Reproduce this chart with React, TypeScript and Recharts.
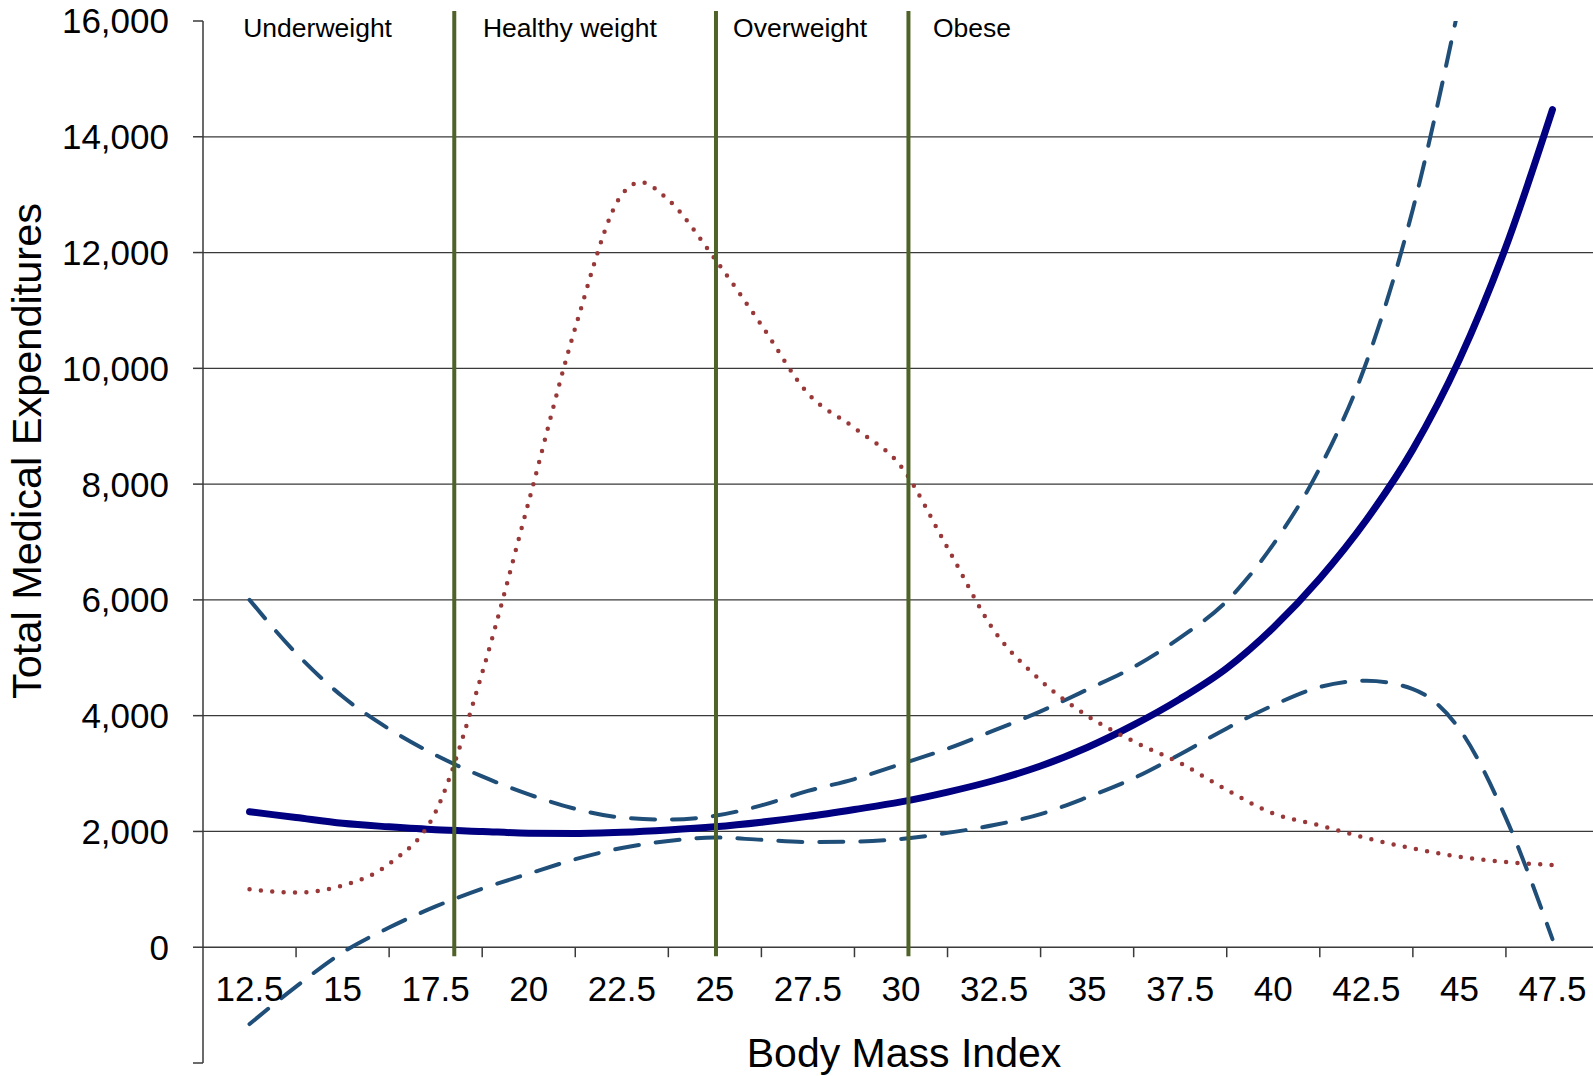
import { LineChart, Line, XAxis, YAxis, ReferenceLine } from 'recharts';

// BMI grid used for the fitted curve and its confidence band
const bmi = [12.5, 13.75, 15, 16.25, 17.5, 18.75, 20, 21.25, 22.5, 23.75, 25, 26.25, 27.5, 28.75, 30, 31.25, 32.5, 33.75, 35, 36.25, 37.5, 38.75, 40, 41.25, 42.5, 43.75, 45, 46.25, 47.5];
const expenditure = [2340, 2240, 2140, 2080, 2030, 2000, 1970, 1965, 1985, 2025, 2080, 2160, 2260, 2380, 2510, 2680, 2880, 3130, 3450, 3840, 4290, 4820, 5520, 6370, 7380, 8600, 10150, 12100, 14470];
const upperBound = [6000, 5080, 4330, 3770, 3320, 2950, 2640, 2390, 2240, 2205, 2270, 2450, 2700, 2905, 3165, 3430, 3745, 4075, 4450, 4840, 5350, 5980, 6960, 8280, 10100, 12750, 16300, null, null];
const lowerBound = [-1327, -680, -90, 340, 705, 1010, 1270, 1520, 1715, 1835, 1895, 1855, 1818, 1825, 1870, 1975, 2110, 2300, 2590, 2920, 3335, 3780, 4180, 4495, 4605, 4460, 3770, 2230, 140];

// population distribution (dotted), own x positions so the peak is kept
const densityBmi = [12.5, 13.75, 15, 16.25, 17.5, 18.75, 20, 21.25, 22.5, 23, 23.75, 25, 26.25, 27.5, 28.75, 30, 31.25, 32.5, 33.75, 35, 36.25, 37.5, 38.75, 40, 41.25, 42.5, 43.75, 45, 46.25, 47.5];
const density = [1000, 945, 1065, 1440, 2340, 4740, 7700, 10700, 13000, 13215, 12910, 11890, 10750, 9565, 8970, 8305, 6900, 5470, 4610, 4000, 3555, 3180, 2718, 2310, 2104, 1885, 1707, 1561, 1473, 1420];

const xTicks = [12.5, 15, 17.5, 20, 22.5, 25, 27.5, 30, 32.5, 35, 37.5, 40, 42.5, 45, 47.5];
const yTicks = [-2000, 0, 2000, 4000, 6000, 8000, 10000, 12000, 14000, 16000];
const gridValues = [2000, 4000, 6000, 8000, 10000, 12000, 14000];

const categoryCuts = [18, 25.03, 30.2];
const categoryNames = ['Underweight', 'Healthy weight', 'Overweight', 'Obese'];
const categoryLabelAt = [12.33, 18.77, 25.49, 30.86];

const fitData = bmi.map((b, i) => ({ bmi: b, expenditure: expenditure[i], upper: upperBound[i], lower: lowerBound[i] }));
const densityData = densityBmi.map((b, i) => ({ bmi: b, density: density[i] }));

const FONT = '"Liberation Sans", Arial, sans-serif';
const AXIS = '#3a3a3a';
const W = 1610;
const H = 1076;
const PLOT_LEFT = 203;
const PLOT_TOP = 21;
const PLOT_RIGHT = 1599;
const PLOT_BOTTOM = 1063;
const X_DOMAIN: [number, number] = [11.25, 48.75];
const Y_DOMAIN: [number, number] = [-2000, 16000];
const ZERO_Y = PLOT_TOP + (Y_DOMAIN[1] / (Y_DOMAIN[1] - Y_DOMAIN[0])) * (PLOT_BOTTOM - PLOT_TOP);
const HALF_STEP = (1.25 * (PLOT_RIGHT - PLOT_LEFT)) / (X_DOMAIN[1] - X_DOMAIN[0]);

const renderXTick = (props: any) => {
  const { x, payload } = props;
  return (
    <g>
      <line x1={x + HALF_STEP} y1={ZERO_Y} x2={x + HALF_STEP} y2={ZERO_Y + 10} stroke={AXIS} strokeWidth={1.5} />
      <text x={x} y={ZERO_Y + 54} textAnchor="middle" fontSize={35} fontFamily={FONT} fill="#000">
        {String(payload.value)}
      </text>
    </g>
  );
};

const renderXTitle = (props: any) => {
  const vb = props.viewBox || {};
  return (
    <text x={(vb.x ?? PLOT_LEFT) + (vb.width ?? 0) / 2 + 3} y={1067} textAnchor="middle" fontSize={41} fontFamily={FONT} fill="#000">
      Body Mass Index
    </text>
  );
};

const renderYTitle = () => (
  <text x={41} y={451} transform="rotate(-90, 41, 451)" textAnchor="middle" fontSize={41.5} fontFamily={FONT} fill="#000">
    Total Medical Expenditures
  </text>
);

const cutLine = (p: any) => (
  <line x1={p.x1} y1={p.y1 + 9} x2={p.x2} y2={p.y2 - 10} stroke="#4f6228" strokeWidth={4} />
);

export default function App() {
  return (
    <div style={{ position: 'absolute', left: 0, top: 0, width: 1593, height: 1076, overflow: 'hidden', background: '#fff' }}>
      <LineChart width={W} height={H} margin={{ top: PLOT_TOP, right: W - PLOT_RIGHT, bottom: 0, left: 0 }}>
        <XAxis
          dataKey="bmi"
          type="number"
          domain={X_DOMAIN}
          ticks={xTicks}
          interval={0}
          height={H - PLOT_BOTTOM}
          axisLine={false}
          tickLine={false}
          tick={renderXTick}
          label={renderXTitle}
          allowDataOverflow
        />
        <YAxis
          type="number"
          domain={Y_DOMAIN}
          ticks={yTicks}
          interval={0}
          width={PLOT_LEFT}
          tickSize={10}
          tickMargin={24}
          axisLine={{ stroke: AXIS, strokeWidth: 1.5 }}
          tickLine={{ stroke: AXIS, strokeWidth: 1.5 }}
          tick={{ fill: '#000', fontSize: 35, fontFamily: FONT }}
          tickFormatter={(v: number) => (v < 0 ? '' : v.toLocaleString('en-US'))}
          label={renderYTitle}
          allowDataOverflow
        />
        {gridValues.map((v) => (
          <ReferenceLine key={v} y={v} stroke={AXIS} strokeWidth={1.3} />
        ))}
        <ReferenceLine y={0} stroke={AXIS} strokeWidth={1.5} />
        <Line data={fitData} dataKey="upper" type="monotone" stroke="#1f4e79" strokeWidth={4} strokeDasharray="24 17" strokeLinecap="round" dot={false} activeDot={false} isAnimationActive={false} />
        <Line data={fitData} dataKey="lower" type="monotone" stroke="#1f4e79" strokeWidth={4} strokeDasharray="24 17" strokeLinecap="round" dot={false} activeDot={false} isAnimationActive={false} />
        <Line data={fitData} dataKey="expenditure" type="monotone" stroke="#000080" strokeWidth={7} strokeLinecap="round" dot={false} activeDot={false} isAnimationActive={false} />
        <Line data={densityData} dataKey="density" type="monotone" stroke="#993838" strokeWidth={4.5} strokeDasharray="0 11.4" strokeLinecap="round" dot={false} activeDot={false} isAnimationActive={false} />
        {categoryCuts.map((c) => (
          <ReferenceLine key={c} segment={[{ x: c, y: 0 }, { x: c, y: Y_DOMAIN[1] }]} shape={cutLine} />
        ))}
        {categoryNames.map((name, i) => (
          <ReferenceLine
            key={name}
            x={categoryLabelAt[i]}
            stroke="none"
            label={(p: any) => (
              <text x={p.viewBox?.x ?? 0} y={37} textAnchor="start" fontSize={26.5} fontFamily={FONT} fill="#000">
                {name}
              </text>
            )}
          />
        ))}
      </LineChart>
    </div>
  );
}
